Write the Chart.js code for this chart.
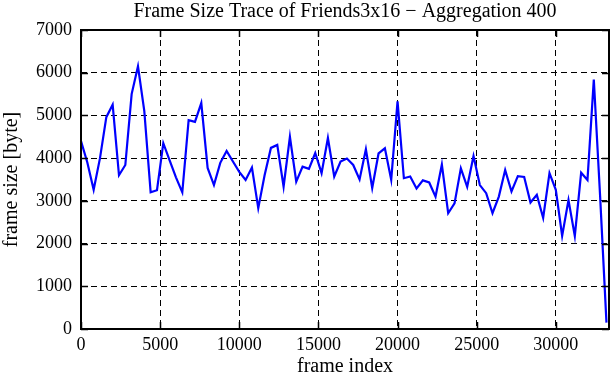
<!DOCTYPE html>
<html>
<head>
<meta charset="utf-8">
<script src="https://cdn.jsdelivr.net/npm/chart.js@4/dist/chart.umd.min.js"></script>
<style>
html,body{margin:0;padding:0;background:#fff;}
#wrap{width:611px;height:380px;}
</style>
</head>
<body>
<div id="wrap"><canvas id="c" width="611" height="380"></canvas></div>
<script>
const chartTitle = 'Frame Size Trace of Friends3x16 \u2212 Aggregation 400';
const xTitle = 'frame index';
const yTitle = 'frame size [byte]';

const frameIndex = [
  0, 400, 800, 1200, 1600, 2000, 2400, 2800, 3200, 3600,
  4000, 4400, 4800, 5200, 5600, 6000, 6400, 6800, 7200, 7600,
  8000, 8400, 8800, 9200, 9600, 10000, 10400, 10800, 11200, 11600,
  12000, 12400, 12800, 13200, 13600, 14000, 14400, 14800, 15200, 15600,
  16000, 16400, 16800, 17200, 17600, 18000, 18400, 18800, 19200, 19600,
  20000, 20400, 20800, 21200, 21600, 22000, 22400, 22800, 23200, 23600,
  24000, 24400, 24800, 25200, 25600, 26000, 26400, 26800, 27200, 27600,
  28000, 28400, 28800, 29200, 29600, 30000, 30400, 30800, 31200, 31600,
  32000, 32400, 32800, 33200
];

const frameSize = [
  4400, 3900, 3260, 4000, 4960, 5250, 3600, 3840, 5500, 6150,
  5100, 3200, 3250, 4350, 3950, 3550, 3200, 4890, 4850, 5290,
  3770, 3370, 3890, 4170, 3920, 3680, 3490, 3780, 2830, 3600,
  4240, 4310, 3330, 4500, 3450, 3800, 3750, 4120, 3650, 4470,
  3570, 3920, 3990, 3840, 3500, 4210, 3300, 4110, 4230, 3490,
  5330, 3530, 3570, 3290, 3480, 3430, 3100, 3850, 2710, 2940,
  3760, 3330, 4050, 3370, 3180, 2710, 3100, 3720, 3220, 3580,
  3560, 2960, 3140, 2600, 3650, 3260, 2180, 3020, 2180, 3660,
  3490, 5840, 3100, 150
];

const xTicks = [0, 5000, 10000, 15000, 20000, 25000, 30000];
const yTicks = [0, 1000, 2000, 3000, 4000, 5000, 6000, 7000];
const xMin = 0, xMax = 33360, yMin = 0, yMax = 7000;

const FONT = 'Liberation Serif';

const titleCenterPlugin = {
  id: 'titleCenter',
  afterLayout(chart) {
    const tb = chart.titleBlock;
    if (tb) {
      tb.left = chart.chartArea.left;
      tb.right = chart.chartArea.right;
    }
  }
};

const framePlugin = {
  id: 'frame',
  afterDatasetsDraw(chart) {
    const {ctx, chartArea, scales} = chart;
    const {left, right, top, bottom} = chartArea;
    ctx.save();
    ctx.setLineDash([]);
    ctx.strokeStyle = '#000';
    ctx.lineWidth = 1.5;
    ctx.beginPath();
    xTicks.forEach(v => {
      const px = Math.round(scales.x.getPixelForValue(v)) + 0.5;
      ctx.moveTo(px, bottom); ctx.lineTo(px, bottom - 7);
      ctx.moveTo(px, top); ctx.lineTo(px, top + 7);
    });
    yTicks.forEach(v => {
      const py = Math.round(scales.y.getPixelForValue(v)) + 0.5;
      ctx.moveTo(left, py); ctx.lineTo(left + 7, py);
      ctx.moveTo(right, py); ctx.lineTo(right - 7, py);
    });
    ctx.stroke();
    ctx.lineWidth = 2;
    ctx.strokeRect(left, top, right - left, bottom - top);
    ctx.restore();
  }
};

new Chart(document.getElementById('c'), {
  type: 'line',
  data: {
    datasets: [{
      data: frameIndex.map((x, i) => ({x: x, y: frameSize[i]})),
      borderColor: '#0000ff',
      borderWidth: 2.2,
      pointRadius: 0,
      tension: 0,
      fill: false
    }]
  },
  options: {
    responsive: false,
    animation: false,
    devicePixelRatio: 1,
    layout: {padding: {left: 0, right: 2, top: 0, bottom: 0}},
    plugins: {
      legend: {display: false},
      tooltip: {enabled: false},
      title: {
        display: true,
        text: chartTitle,
        color: '#000',
        font: {family: FONT, size: 20, weight: 'normal'},
        padding: {top: 0, bottom: 6}
      }
    },
    scales: {
      x: {
        type: 'linear',
        min: xMin,
        max: xMax,
        afterBuildTicks: s => { s.ticks = xTicks.map(v => ({value: v})); },
        afterFit: s => { s.height = 51; },
        grid: {color: '#000', lineWidth: 1, drawTicks: false},
        border: {display: false, dash: [6, 4]},
        ticks: {
          color: '#000',
          font: {family: FONT, size: 18},
          padding: 5,
          maxRotation: 0,
          autoSkip: false,
          callback: v => String(v)
        },
        title: {
          display: true,
          text: xTitle,
          color: '#000',
          font: {family: FONT, size: 20},
          padding: {top: 0, bottom: 1}
        }
      },
      y: {
        type: 'linear',
        min: yMin,
        max: yMax,
        afterBuildTicks: s => { s.ticks = yTicks.map(v => ({value: v})); },
        afterFit: s => { s.width = 81; },
        grid: {color: '#000', lineWidth: 1, drawTicks: false},
        border: {display: false, dash: [6, 4]},
        ticks: {
          color: '#000',
          font: {family: FONT, size: 18},
          padding: 9,
          autoSkip: false,
          callback: v => String(v)
        },
        title: {
          display: true,
          text: yTitle,
          color: '#000',
          font: {family: FONT, size: 20},
          padding: {top: 0, bottom: 0}
        }
      }
    }
  },
  plugins: [titleCenterPlugin, framePlugin]
});
</script>
</body>
</html>
